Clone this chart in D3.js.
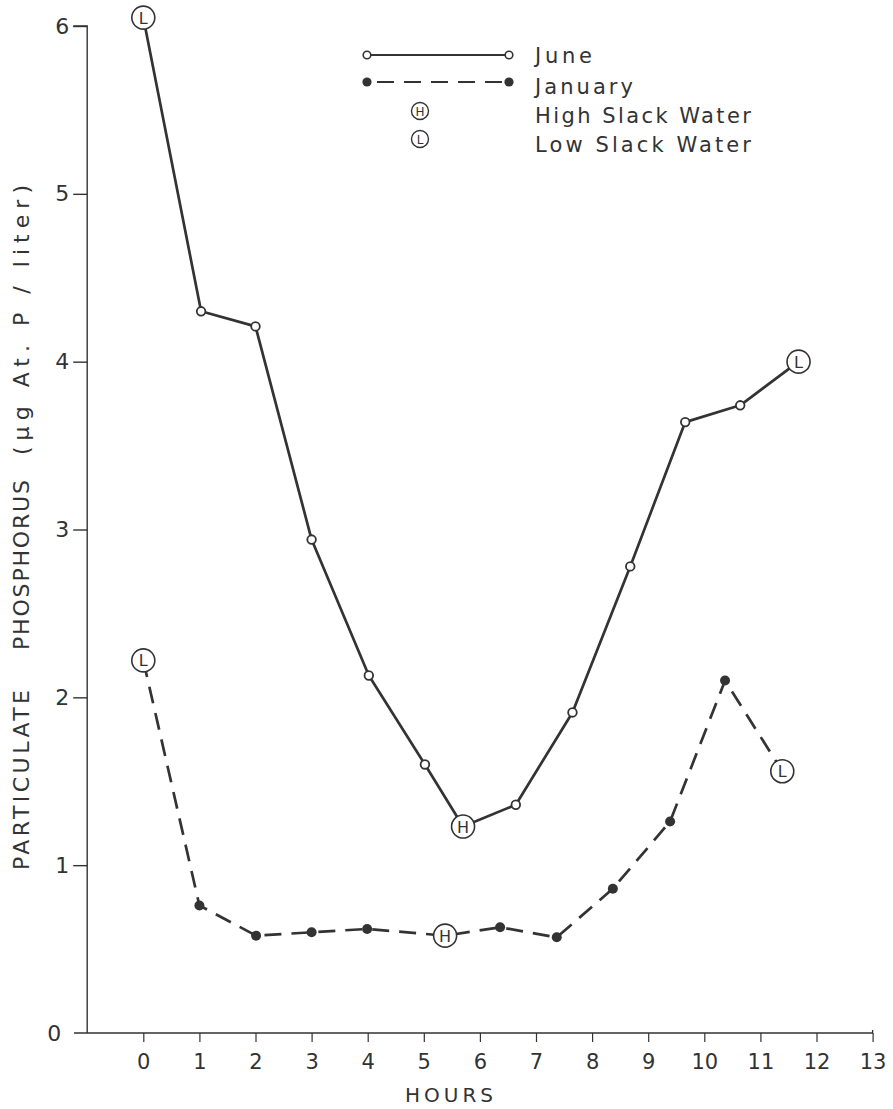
<!DOCTYPE html>
<html>
<head>
<meta charset="utf-8">
<script src="https://cdn.jsdelivr.net/npm/d3@7"></script>
<style>
  html, body { margin: 0; padding: 0; background: #fff; }
  svg { display: block; }
  text { font-family: "DejaVu Sans", "Liberation Sans", sans-serif; fill: #333; }
</style>
</head>
<body>
<svg id="chart" width="893" height="1109"></svg>
<script>
// Particulate phosphorus over a tidal cycle, June and January surveys.
const juneHours   = [0, 1.03, 2.0, 3.0, 4.02, 5.02, 5.70, 6.64, 7.65, 8.68, 9.66, 10.64, 11.68];
const juneValues  = [6.05, 4.30, 4.21, 2.94, 2.13, 1.60, 1.23, 1.36, 1.91, 2.78, 3.64, 3.74, 4.00];
const juneMarks   = ["L", "o", "o", "o", "o", "o", "H", "o", "o", "o", "o", "o", "L"];

const janHours    = [0, 1.0, 2.01, 3.0, 3.99, 5.38, 6.36, 7.37, 8.37, 9.39, 10.37, 11.39];
const janValues   = [2.22, 0.76, 0.58, 0.60, 0.62, 0.58, 0.63, 0.57, 0.86, 1.26, 2.10, 1.56];
const janMarks    = ["L", "•", "•", "•", "•", "H", "•", "•", "•", "•", "•", "L"];

const xTicks = [0, 1, 2, 3, 4, 5, 6, 7, 8, 9, 10, 11, 12, 13];
const yTicks = [0, 1, 2, 3, 4, 5, 6];

const legendItems = ["June", "January", "High Slack Water", "Low Slack Water"];
const yTitleParts = ["PARTICULATE", "PHOSPHORUS", "(µg At. P / liter)"];

const ink = "#333";
const svg = d3.select("#chart");

const x = d3.scaleLinear().domain([-1, 13]).range([87.2, 872.6]);
const y = d3.scaleLinear().domain([0, 6]).range([1033, 26]);

// Axes
const yAxis = svg.append("g").attr("transform", `translate(${x(-1)},0)`)
  .call(d3.axisLeft(y).tickValues(yTicks).tickSize(14).tickPadding(4).tickFormat(d3.format("d")));
yAxis.select(".domain").attr("stroke", ink).attr("stroke-width", 1.4).attr("d", `M-14,${y(6)}H0V${y(0)}`);
yAxis.selectAll(".tick line").attr("stroke", ink).attr("stroke-width", 1.4);
yAxis.selectAll(".tick text").attr("font-size", 22).attr("fill", "#333")
  .attr("font-family", "DejaVu Sans, sans-serif");
yAxis.selectAll(".tick").filter(d => d === 0).select("text").attr("dx", -8);
yAxis.selectAll(".tick").filter(d => d === 0).select("line").remove();

const xAxis = svg.append("g").attr("transform", `translate(0,${y(0)})`)
  .call(d3.axisBottom(x).tickValues(xTicks).tickSize(9).tickPadding(12).tickFormat(d3.format("d")));
xAxis.select(".domain").attr("stroke", ink).attr("stroke-width", 1.3)
  .attr("d", `M74,0H${x(13)}V-3`);
xAxis.selectAll(".tick line").attr("stroke", ink).attr("stroke-width", 1.2);
xAxis.selectAll(".tick text").attr("font-size", 21).attr("fill", "#333")
  .attr("font-family", "DejaVu Sans, sans-serif");

// Axis titles
svg.append("text")
  .attr("x", 449).attr("y", 1102)
  .attr("text-anchor", "middle").attr("font-size", 20)
  .attr("textLength", 88).attr("lengthAdjust", "spacing")
  .text("HOURS");

// Y title: three words, each stretched over its span along the axis
const titleSpans = [[690, 870], [480, 650], [185, 455]];
yTitleParts.forEach((t, i) => {
  const [a, b] = titleSpans[i];
  svg.append("text")
    .attr("transform", `translate(29,${(a + b) / 2}) rotate(-90)`)
    .attr("text-anchor", "middle").attr("font-size", 22)
    .attr("textLength", b - a).attr("lengthAdjust", "spacing")
    .text(t);
});

// Series
function drawSeries(hours, values, marks, dashed) {
  const pts = hours.map((h, i) => ({ h, v: values[i], m: marks[i] }));
  const line = d3.line().x(d => x(d.h)).y(d => y(d.v));
  svg.append("path").datum(pts)
    .attr("d", line).attr("fill", "none")
    .attr("stroke", ink).attr("stroke-width", 2.7)
    .attr("stroke-dasharray", dashed ? "17,10" : null)
    .attr("stroke-linejoin", "round");

  const g = svg.append("g");
  pts.forEach(d => {
    const cx = x(d.h), cy = y(d.v);
    if (d.m === "o") {
      g.append("circle").attr("cx", cx).attr("cy", cy).attr("r", 4.3)
        .attr("fill", "#fff").attr("stroke", ink).attr("stroke-width", 1.8);
    } else if (d.m === "•") {
      g.append("circle").attr("cx", cx).attr("cy", cy).attr("r", 5)
        .attr("fill", ink);
    } else {
      g.append("circle").attr("cx", cx).attr("cy", cy).attr("r", 11.5)
        .attr("fill", "#fff").attr("stroke", ink).attr("stroke-width", 1.6);
      g.append("text").attr("x", cx).attr("y", cy + 6)
        .attr("text-anchor", "middle").attr("font-size", 16)
        .text(d.m);
    }
  });
}

drawSeries(juneHours, juneValues, juneMarks, false);
drawSeries(janHours, janValues, janMarks, true);

// Legend
const lg = svg.append("g");
const lx0 = 367, lx1 = 509, tx = 535;
lg.append("line").attr("x1", lx0).attr("x2", lx1).attr("y1", 55).attr("y2", 55)
  .attr("stroke", ink).attr("stroke-width", 2.2);
[lx0, lx1].forEach(cx => lg.append("circle").attr("cx", cx).attr("cy", 55).attr("r", 3.8)
  .attr("fill", "#fff").attr("stroke", ink).attr("stroke-width", 1.6));
lg.append("line").attr("x1", lx0).attr("x2", lx1).attr("y1", 82).attr("y2", 82)
  .attr("stroke", ink).attr("stroke-width", 2.2).attr("stroke-dasharray", "0,10,17,10,17,10,17,10,17,10,17,10");
[lx0, lx1].forEach(cx => lg.append("circle").attr("cx", cx).attr("cy", 82).attr("r", 4.6)
  .attr("fill", ink));
[["H", 111], ["L", 139]].forEach(([t, cy]) => {
  lg.append("circle").attr("cx", 420).attr("cy", cy).attr("r", 8.5)
    .attr("fill", "#fff").attr("stroke", ink).attr("stroke-width", 1.4);
  lg.append("text").attr("x", 420).attr("y", cy + 4.5).attr("text-anchor", "middle")
    .attr("font-size", 12).text(t);
});
const baselines = [63, 94, 123, 152];
const legendWidths = [57, 98, 216, 216];
legendItems.forEach((t, i) => {
  lg.append("text").attr("x", tx).attr("y", baselines[i])
    .attr("font-size", 21).attr("textLength", legendWidths[i]).attr("lengthAdjust", "spacing")
    .text(t);
});
</script>
</body>
</html>
